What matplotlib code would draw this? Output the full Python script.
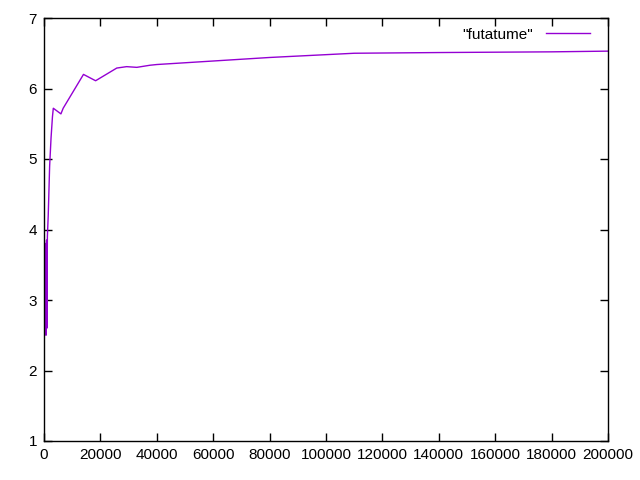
import matplotlib as mpl
mpl.use('Agg')
import matplotlib.pyplot as plt

mpl.rcParams['font.family'] = ['Liberation Sans', 'DejaVu Sans']
mpl.rcParams['font.size'] = 11

# data
x = [500, 700, 900, 1000, 1200, 1500, 2000, 2500, 3000, 3300, 6000, 6800,
     14000, 18300, 25800, 29300, 32900, 37600, 40000, 60000, 80000, 100000,
     110000, 140000, 180000, 200000]
y = [3.8, 2.5, 3.85, 2.6, 3.9, 4.2, 4.9, 5.3, 5.6, 5.72, 5.64, 5.72,
     6.2, 6.11, 6.29, 6.31, 6.30, 6.33, 6.34, 6.39, 6.44, 6.48,
     6.50, 6.51, 6.52, 6.53]
xticks = list(range(0, 200001, 20000))
yticks = [1, 2, 3, 4, 5, 6, 7]

fig = plt.figure(figsize=(6.4, 4.8), dpi=100)
ax = fig.add_axes([44/640, 1 - 441/480, (608-44)/640, (441-18)/480])
ax.plot(x, y, color='#9400d3', lw=1, label='"futatume"')
ax.set_xlim(0, 200000)
ax.set_ylim(1, 7)
ax.set_xticks(xticks)
ax.set_yticks(yticks)
ax.tick_params(direction='in', top=True, right=True, length=6, width=1, pad=5)
for s in ax.spines.values():
    s.set_linewidth(1)
ax.legend(loc='upper right', bbox_to_anchor=(0.9787, 0.9915), frameon=False,
          markerfirst=False, handlelength=2.9, borderaxespad=0, fontsize=11)
fig.savefig('out.png', dpi=100)
